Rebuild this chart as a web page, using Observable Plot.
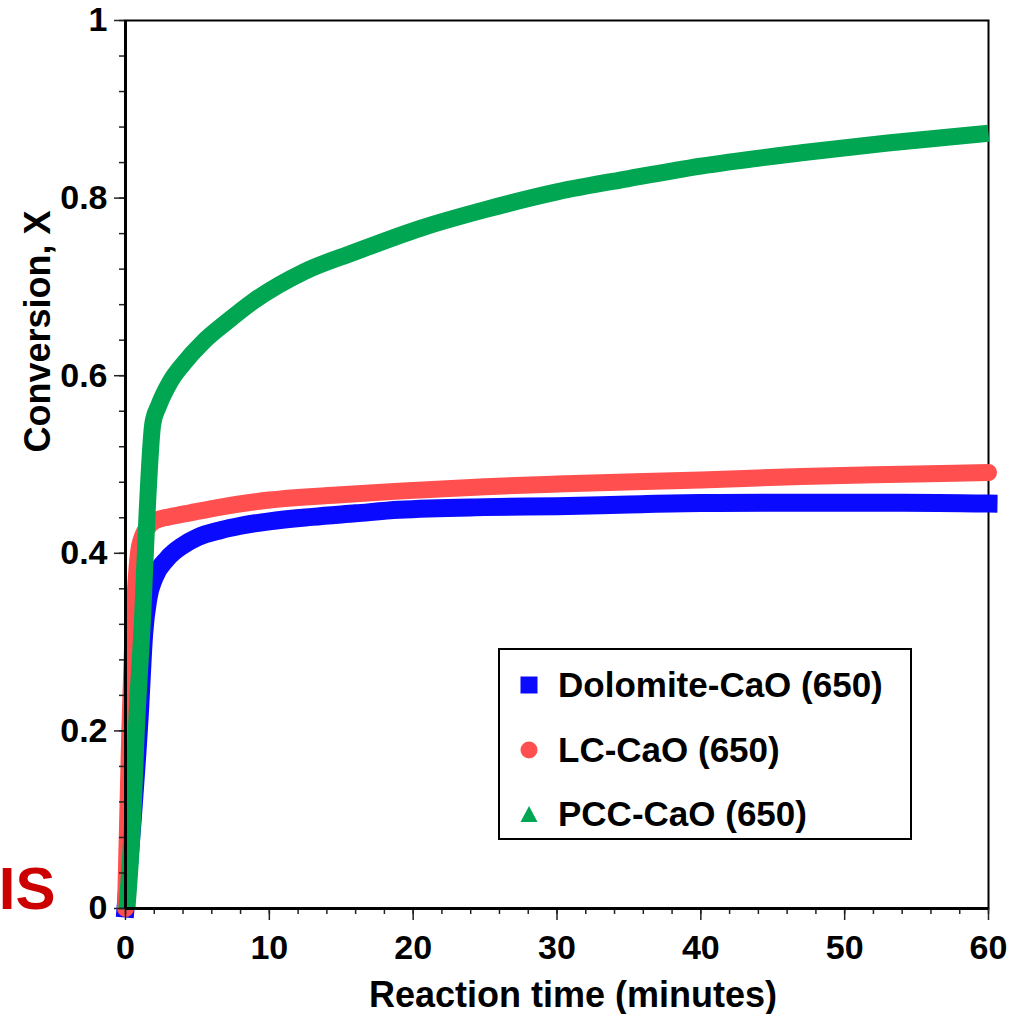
<!DOCTYPE html>
<html>
<head>
<meta charset="utf-8">
<script src="https://cdn.jsdelivr.net/npm/d3@7"></script>
<script src="https://cdn.jsdelivr.net/npm/@observablehq/plot@0.6"></script>
<style>
  html, body { margin: 0; padding: 0; background: #fff; }
  #wrap { position: relative; width: 1011px; height: 1014px; overflow: hidden;
          font-family: 'Liberation Sans', Arial, sans-serif; font-weight: bold; }
  #legend { position: absolute; left: 498px; top: 648px; width: 410px; height: 188px;
            border: 2px solid #000; background: #fff; box-sizing: content-box; }
  .item { position: absolute; left: 0; height: 40px; display: flex; align-items: center; }
  .item svg { position: absolute; left: 19px; }
  .item span { position: absolute; left: 58px; white-space: nowrap; font-size: 35px; color: #000; line-height: 40px; }
</style>
</head>
<body>
<div id="wrap"></div>
<script>
// ---- data ----
const seriesNames = ["Dolomite-CaO (650)", "LC-CaO (650)", "PCC-CaO (650)"];
const seriesColors = ["#0a0aff", "#ff4f4f", "#00a651"];

const dolomiteTime = [0, 0.5, 1.0, 1.3, 1.6, 2.0, 2.9, 4.0, 5.0, 6.6, 8, 10, 13, 16, 19, 25, 30, 35, 40, 47, 54, 60];
const dolomiteX    = [0, 0.10, 0.22, 0.31, 0.35, 0.372, 0.394, 0.409, 0.418, 0.426, 0.431, 0.436, 0.441, 0.445, 0.449, 0.452, 0.453, 0.455, 0.4566, 0.457, 0.457, 0.456];

const lcTime = [0, 0.15, 0.3, 0.5, 0.7, 0.9, 1.2, 1.6, 2.0, 3.0, 4.0, 6.6, 10, 15, 19, 25, 30, 40, 47, 54, 60];
const lcX    = [0, 0.10, 0.20, 0.30, 0.36, 0.40, 0.42, 0.43, 0.436, 0.441, 0.444, 0.452, 0.46, 0.466, 0.47, 0.475, 0.478, 0.4826, 0.4865, 0.489, 0.491];

const pccTime = [0.1, 0.5, 0.75, 1.2, 1.5, 1.9, 2.3, 3.1, 4.0, 5.4, 7.0, 8.9, 12.4, 15.9, 20.5, 25, 30, 35, 40, 47, 53, 60];
const pccX    = [0, 0.10, 0.20, 0.332, 0.445, 0.546, 0.566, 0.593, 0.613, 0.638, 0.66, 0.684, 0.717, 0.739, 0.766, 0.787, 0.807, 0.822, 0.836, 0.851, 0.862, 0.873];

const xMajorTicks = [0, 10, 20, 30, 40, 50, 60];
const xMinorTicks = d3.range(0, 61, 2);
const yMajorTicks = [0, 0.2, 0.4, 0.6, 0.8, 1];
const yMinorTicks = d3.range(0, 26).map(i => i * 0.04);

const xTitle = "Reaction time (minutes)";
const yTitle = "Conversion, X";
const cornerText = "IS";

// ---- build rows ----
const toRows = (ts, xs, name) => ts.map((t, i) => ({t, X: xs[i], name}));
const dolomite = toRows(dolomiteTime, dolomiteX, seriesNames[0]);
const lc = toRows(lcTime, lcX, seriesNames[1]);
const pcc = toRows(pccTime, pccX, seriesNames[2]);

const chart = Plot.plot({
  width: 1011,
  height: 1014,
  marginLeft: 125,
  marginRight: 23,
  marginTop: 20,
  marginBottom: 106,
  x: {domain: [0, 60]},
  y: {domain: [0, 1]},
  style: {
    fontFamily: "'Liberation Sans', Arial, sans-serif",
    fontWeight: "bold",
    fontSize: "34px",
    color: "#000",
    background: "transparent",
    overflow: "visible"
  },
  marks: [
    Plot.frame({stroke: "#000", strokeWidth: 2}),
    Plot.line(dolomite, {x: "t", y: "X", stroke: seriesColors[0], strokeWidth: 18, strokeLinecap: "square", strokeLinejoin: "round", curve: "monotone-x"}),
    Plot.line(lc, {x: "t", y: "X", stroke: seriesColors[1], strokeWidth: 17, strokeLinecap: "round", strokeLinejoin: "round", curve: "monotone-x"}),
    Plot.line(pcc, {x: "t", y: "X", stroke: seriesColors[2], strokeWidth: 17, strokeLinecap: "butt", strokeLinejoin: "round", curve: "monotone-x"}),
    Plot.axisX({ticks: xMinorTicks, tickSize: 6, tickFormat: () => "", label: null, stroke: "#222", strokeWidth: 1.5}),
    Plot.axisX({ticks: xMajorTicks, tickSize: 12, tickPadding: 14, tickFormat: d => String(d), label: null, stroke: "#222", strokeWidth: 1.5}),
    Plot.axisY({ticks: yMinorTicks, tickSize: 6, tickFormat: () => "", label: null, stroke: "#222", strokeWidth: 1.5}),
    Plot.axisY({ticks: yMajorTicks, tickSize: 11, tickPadding: 7, tickFormat: d => String(+(+d).toFixed(1)), label: null, stroke: "#222", strokeWidth: 1.5}),
    Plot.ruleX([0], {stroke: "#000", strokeWidth: 3}),
    Plot.ruleY([0], {stroke: "#000", strokeWidth: 3}),
    Plot.text([xTitle], {text: d => d, frameAnchor: "bottom", lineAnchor: "bottom", dx: 16, dy: 98, fontSize: 36, fontWeight: "bold", fill: "#000"}),
    Plot.text([yTitle], {text: d => d, frameAnchor: "left", lineAnchor: "middle", rotate: -90, dx: -87, dy: -12, fontSize: 36, fontWeight: "bold", fill: "#000"}),
    Plot.text([cornerText], {text: d => d, frameAnchor: "bottom-left", textAnchor: "end", lineAnchor: "bottom", dx: -70, dy: 0, fontSize: 60, fontWeight: "bold", fill: "#cc0000"})
  ]
});

const wrap = document.getElementById("wrap");
wrap.appendChild(chart);

// ---- legend ----
const legend = document.createElement("div");
legend.id = "legend";
const rowTops = [15, 80, 144];
const markerSvgs = [
  `<svg width="20" height="20" viewBox="0 0 20 20"><rect x="1.5" y="1.5" width="17" height="17" fill="${seriesColors[0]}"/></svg>`,
  `<svg width="20" height="20" viewBox="0 0 20 20"><circle cx="10" cy="10" r="8.5" fill="${seriesColors[1]}"/></svg>`,
  `<svg width="20" height="20" viewBox="0 0 20 20"><polygon points="10,2 18.5,18 1.5,18" fill="${seriesColors[2]}"/></svg>`
];
seriesNames.forEach((name, i) => {
  const item = document.createElement("div");
  item.className = "item";
  item.style.top = rowTops[i] + "px";
  item.innerHTML = markerSvgs[i] + `<span>${name}</span>`;
  legend.appendChild(item);
});
wrap.appendChild(legend);
</script>
</body>
</html>
